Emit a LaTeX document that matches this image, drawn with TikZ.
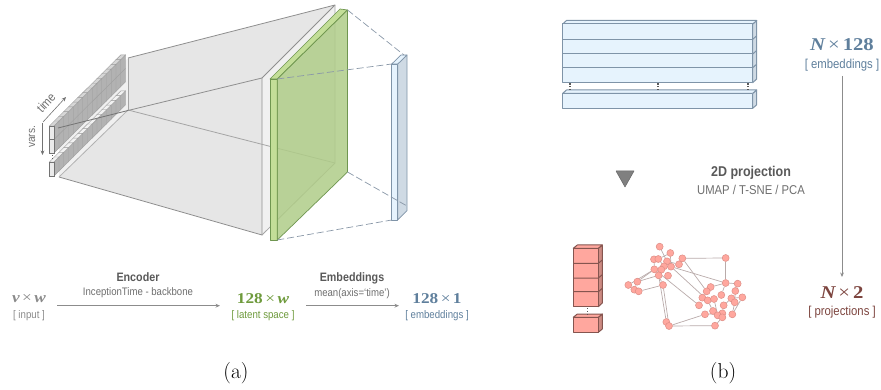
\documentclass[tikz,border=0pt]{standalone}
\usepackage{fontspec}
\setmainfont[FakeStretch=0.88]{Liberation Sans}
\newfontfamily\dimserif[FakeStretch=1.15]{Liberation Serif}
\newfontfamily\lmfont{Latin Modern Roman}
\usetikzlibrary{arrows.meta,backgrounds,calc}
\definecolor{wallgray}{HTML}{E6E6E6}
\definecolor{facegray}{HTML}{F0F0F0}
\definecolor{edgegray}{HTML}{8F8F8F}
\definecolor{txtgray}{HTML}{8A8A8A}
\definecolor{headgray}{HTML}{595959}
\definecolor{subgray}{HTML}{6E6E6E}
\definecolor{grn}{HTML}{6E9A3C}
\definecolor{grnfront}{HTML}{C3DE98}
\definecolor{grnside}{HTML}{AFCC88}
\definecolor{grnline}{HTML}{6F9650}
\definecolor{blutxt}{HTML}{5F7F9C}
\definecolor{blufront}{HTML}{E6F3FD}
\definecolor{bluside}{HTML}{CFDAE4}
\definecolor{bluline}{HTML}{7F94A8}
\definecolor{dashblue}{HTML}{8A98A8}
\definecolor{redtxt}{HTML}{7D453F}
\definecolor{redfill}{HTML}{FFA79E}
\definecolor{redside}{HTML}{CC8A82}
\definecolor{redline}{HTML}{85554F}
\definecolor{ptline}{HTML}{DD8E86}
\definecolor{ptedge}{HTML}{B9ABAA}
\definecolor{arrowgray}{HTML}{8C8C8C}
\tikzset{
  x=1pt,y=-1pt,
  wall/.style={draw=edgegray,line width=0.8pt,line join=round},
  inputline/.style={draw=black!38,line width=0.4pt},
  dashlink/.style={draw=dashblue,line width=0.7pt,dash pattern=on 7pt off 3pt},
  flow/.style={draw=arrowgray,line width=0.9pt,-{Stealth[length=4.5pt,width=3.8pt]}},
  head/.style={font=\fontsize{12.2}{14}\selectfont\bfseries,text=headgray,inner sep=0pt},
  sub/.style={font=\fontsize{10.9}{13}\selectfont,text=subgray,inner sep=0pt},
  headb/.style={font=\fontsize{14.2}{16}\selectfont\bfseries,text=headgray,inner sep=0pt},
  subb/.style={font=\fontsize{12.8}{15}\selectfont,text=subgray,inner sep=0pt},
  dimtxt/.style={font=\fontsize{15}{17}\dimserif\bfseries,inner sep=0pt},
  dimtxtb/.style={font=\fontsize{18}{20}\dimserif\bfseries,inner sep=0pt},
  note/.style={font=\fontsize{11}{13}\selectfont,inner sep=0pt},
  noteb/.style={font=\fontsize{12.9}{15}\selectfont,inner sep=0pt},
  caption/.style={font=\fontsize{21.5}{24}\lmfont,inner sep=0pt,text=black},
  bluebox/.style={fill=blufront,draw=bluline,line width=1pt,line join=round},
  blueside/.style={fill=bluside,draw=bluline,line width=1pt,line join=round},
  redbox/.style={fill=redfill,draw=redline,line width=1pt,line join=round},
  redsidebox/.style={fill=redside,draw=redline,line width=1pt,line join=round},
  pt/.style={circle,fill=redfill,draw=ptline,line width=0.5pt,minimum size=7pt,inner sep=0pt},
  ptlink/.style={draw=ptedge,line width=0.7pt},
  dotsv/.style={draw=black!65,line width=1.2pt,dash pattern=on 1.2pt off 1.6pt},
}
\begin{document}
\begin{tikzpicture}
\useasboundingbox (0,0) rectangle (881,390);
% --- big prism
\fill[wallgray] (128,58)--(335,5)--(262,78)--(262,235)--(59,177)--(128,110)--cycle;
\fill[facegray] (335,5)--(262,78)--(262,235)--(335,163)--cycle;
\fill[facegray] (59,128)--(128,58)--(128,110)--(59,177)--cycle;
\draw[wall] (128,58)--(335,5)--(262,78)--(262,235)--(59,177);
\draw[wall,draw=edgegray!80] (335,5)--(335,163)--(262,235);
\draw[wall,draw=edgegray!80] (128,58)--(128,110);
\draw[wall,draw=edgegray!70] (59,177)--(128,110);
\draw[wall,draw=edgegray!80] (128,110)--(335,163);
% --- input block
\foreach \k in {14,13,...,0}{
  \pgfmathsetmacro{\dx}{\k*4.75}
  \pgfmathsetmacro{\dy}{\k*4.72}
  \begin{scope}[shift={(\dx,-\dy)}]
    \filldraw[fill=black!30,inputline] (54,126)--(59,121)--(59,148)--(54,153)--cycle;
    \draw[inputline] (54,139.5)--(59,134.5);
    \filldraw[fill=black!16,inputline] (49.3,126)--(54,126)--(59,121)--(54.3,121)--cycle;
    \filldraw[fill=black!30,inputline] (54,162)--(59,157)--(59,171)--(54,176)--cycle;
    \filldraw[fill=black!5,inputline] (49.3,162)--(54,162)--(59,157)--(54.3,157)--cycle;
  \end{scope}
}
\filldraw[fill=black!8,draw=black!55,line width=0.8pt] (49.3,126) rectangle (54,153);
\draw[draw=black!55,line width=0.6pt] (49.3,139.5)--(54,139.5);
\filldraw[fill=black!8,draw=black!55,line width=0.8pt] (49.3,162) rectangle (54,176);
\draw[dotsv,line width=0.8pt] (52,155)--(52,160);
% center line over the input
\draw[draw=black!55,line width=0.8pt] (58,128)--(128,110.5);
\draw[wall] (128,110.5)--(262,78);
% labels time/vars
\coordinate (timeA) at (43,122);
\coordinate (timeB) at (66,97);
\coordinate (varsA) at (42.5,123);
\coordinate (varsB) at (42.5,155);
\draw[flow,draw=black!55,line width=0.6pt] (timeA)--(timeB);
\draw[flow,draw=black!55,line width=0.6pt] (varsA)--(varsB);
\node[note,text=subgray,rotate=47,font=\fontsize{12.5}{14}\selectfont] (timelbl) at (46,102.5) {time};
\node[note,text=subgray,rotate=90,font=\fontsize{11.5}{13}\selectfont] (varslbl) at (32,137) {vars.};
% --- green plane
\filldraw[fill=grnfront,draw=grnline,line width=0.7pt,line join=round] (270,79)--(277.3,79)--(347.5,10)--(340,9)--cycle;
\filldraw[fill=grnfront,draw=grnline,line width=0.7pt,line join=round] (270,79) rectangle (277.3,240);
\filldraw[fill=grnside,fill opacity=0.85,draw=grnline,line width=0.7pt,line join=round] (277.3,79)--(347.5,10)--(347.5,172)--(277.3,240)--cycle;
% --- blue bar
\coordinate (gTL) at (277.3,79);
\coordinate (gTR) at (347.5,10);
\coordinate (gBR) at (347.5,172);
\coordinate (gBL) at (277.3,240);
\filldraw[blueside,line width=0.7pt] (397.7,64)--(407,55)--(407,210.7)--(397.7,220)--cycle;
\filldraw[bluebox,line width=0.7pt] (391.7,64)--(397.7,64)--(407,55)--(401,55)--cycle;
\filldraw[bluebox,line width=0.7pt] (391.7,64) rectangle (397.7,220);
\coordinate (bTL) at (391.7,64);
\coordinate (bTR) at (404,55);
\coordinate (bBR) at (407,206);
\coordinate (bBL) at (391.7,220);
\draw[dashlink] (gTL)--(bTL);
\draw[dashlink] (gTR)--(bTR);
\draw[dashlink] (gBR)--(bBR);
\draw[dashlink] (gBL)--(bBL);
% --- bottom row (a)
\node[dimtxt,text=txtgray] (in) at (29,299) {\itshape v\,\upshape\mdseries×\,\bfseries\itshape w};
\node[note,text=txtgray] (inn) at (29,315.5) {[ input ]};
\node[dimtxt,text=grn] (lat) at (263,299) {128\,{\mdseries×}\,\itshape w};
\node[note,text=grn] (latn) at (263,315.5) {[ latent space ]};
\node[dimtxt,text=blutxt] (emb) at (437,298.5) {128\,{\mdseries×}\,1};
\node[note,text=blutxt] (embn) at (437,315.5) {[ embeddings ]};
\node[head] (enc) at (138,277) {Encoder};
\node[sub] (encs) at (138,292.5) {InceptionTime - backbone};
\node[head] (embh) at (352,278) {Embeddings};
\node[sub] (embs) at (352,293.5) {mean(axis=‘time’)};
\coordinate (a1) at (57,305.7);
\coordinate (a2) at (220,305.7);
\coordinate (a3) at (306,305.7);
\coordinate (a4) at (399,305.7);
\draw[flow] (a1)--(a2);
\draw[flow] (a3)--(a4);
\node[caption] (capa) at (236,373) {(a)};
\node[caption] (capb) at (723,373) {(b)};
% --- (b) embeddings table
\filldraw[blueside] (752.7,24)--(756.7,20.5)--(756.7,79)--(752.7,82.7)--cycle;
\filldraw[bluebox] (562.7,24)--(752.7,24)--(756.7,20.5)--(566.5,20.5)--cycle;
\filldraw[bluebox] (562.7,24) rectangle (752.7,82.7);
\draw[bluebox,fill=none] (562.7,39.3)--(752.7,39.3);
\draw[bluebox,fill=none] (562.7,54)--(752.7,54);
\draw[bluebox,fill=none] (562.7,67.7)--(752.7,67.7);
\draw[bluebox,fill=none] (752.7,39.3)--(756.7,35.8);
\draw[bluebox,fill=none] (752.7,54)--(756.7,50.5);
\draw[bluebox,fill=none] (752.7,67.7)--(756.7,64.2);
\filldraw[blueside] (752.7,93.3)--(756.7,90)--(756.7,104.8)--(752.7,108.3)--cycle;
\filldraw[bluebox] (562.7,93.3)--(752.7,93.3)--(756.7,90)--(566.5,90)--cycle;
\filldraw[bluebox] (562.7,93.3) rectangle (752.7,108.3);
\draw[dotsv] (570,83.5)--(570,91);
\draw[dotsv] (658,83.5)--(658,91);
\draw[dotsv] (748,83.5)--(748,91);
% --- triangle
\filldraw[fill=black!50,draw=black!60,line width=0.5pt,line join=round] (616,171)--(634,171)--(625,187)--cycle;
\node[headb] (proj) at (751,172.7) {2D projection};
\node[subb] (projs) at (751,190) {UMAP / T-SNE / PCA};
% --- (b) right labels
\node[dimtxtb,text=blutxt] (nb) at (842,45) {\itshape N\,\upshape\mdseries×\,\bfseries 128};
\node[noteb,text=blutxt] (nbn) at (842,65) {[ embeddings ]};
\node[dimtxtb,text=redtxt] (nr) at (842,293) {\itshape N\,\upshape\mdseries×\,\bfseries 2};
\node[noteb,text=redtxt] (nrn) at (842,312) {[ projections ]};
\coordinate (pa) at (842,76);
\coordinate (pb) at (842,277);
\draw[flow] (pa)--(pb);
% --- red stack
\filldraw[redsidebox] (598.3,248.3)--(602.3,245)--(602.3,303)--(598.3,306.7)--cycle;
\filldraw[redbox] (573.3,248.3)--(598.3,248.3)--(602.3,245)--(577.3,245)--cycle;
\filldraw[redbox] (573.3,248.3) rectangle (598.3,306.7);
\draw[redbox,fill=none] (573.3,263.3)--(598.3,263.3)--(602.3,260);
\draw[redbox,fill=none] (573.3,278)--(598.3,278)--(602.3,274.7);
\draw[redbox,fill=none] (573.3,291.7)--(598.3,291.7)--(602.3,288.4);
\filldraw[redsidebox] (598.3,317.3)--(602.3,314)--(602.3,329)--(598.3,332.3)--cycle;
\filldraw[redbox] (573.3,317.3)--(598.3,317.3)--(602.3,314)--(577.3,314)--cycle;
\filldraw[redbox] (573.3,317.3) rectangle (598.3,332.3);
\draw[dotsv] (587.7,308)--(587.7,315);
% --- scatter graph
\foreach \n/\x/\y in {1/299/50,2/331/69,3/282/88,4/295/87,5/367/85,6/497/84,7/321/94,8/357/103,9/312/109,10/333/110,11/304/119,12/283/118,13/296/136,14/324/137,15/232/155,16/205/165,17/223/179,18/236/184,19/309/165,20/497/159,21/533/161,22/452/171,23/440/184,24/526/183,25/484/195,26/547/202,27/427/203,28/443/211,29/462/207,30/514/205,31/524/217,32/417/226,33/491/226,34/459/243,35/435/253,36/487/250,37/473/256,38/487/262,39/517/253,40/319/276,41/327/288,42/465/287}{
  \node[pt] (p\n) at ({560+\x/3},{230+\y/3}) {};
}
\begin{scope}[on background layer]
\foreach \a/\b in {1/7,2/4,2/10,3/4,3/12,4/9,5/6,5/8,5/23,6/20,7/8,7/11,8/10,9/11,10/20,11/13,12/13,12/15,12/16,13/15,13/19,13/40,19/41,19/18,16/17,17/18,15/17,40/41,41/42,41/35,35/36,12/32,10/28,20/21,20/22,20/25,21/24,22/23,23/27,24/31,26/30,26/39,29/28,27/28,28/34,29/37,30/33,33/36,34/37,36/38,37/38,31/39,42/38}{
  \draw[ptlink] (p\a)--(p\b);
}
\end{scope}
\end{tikzpicture}
\end{document}
